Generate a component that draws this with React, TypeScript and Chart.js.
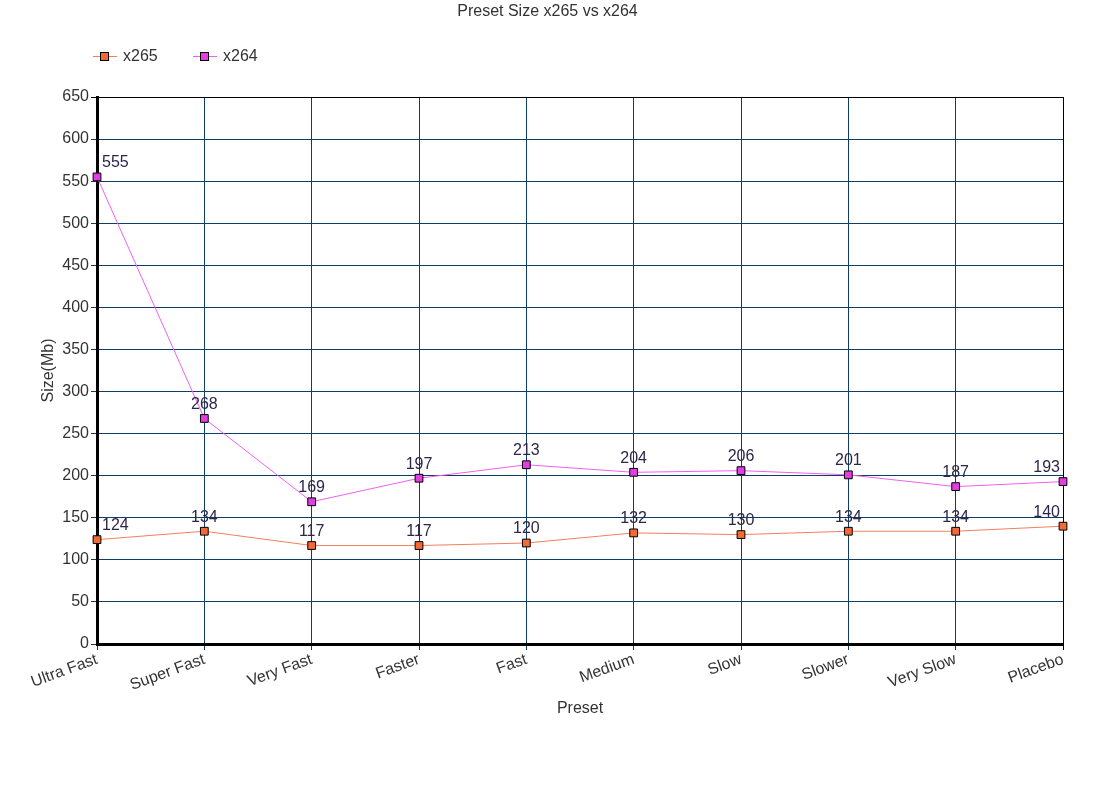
import React, { useEffect, useRef } from "react";
import { Chart, registerables } from "chart.js";

Chart.register(...registerables);

const categories = ["Ultra Fast", "Super Fast", "Very Fast", "Faster", "Fast", "Medium", "Slow", "Slower", "Very Slow", "Placebo"];
const x265Values = [124, 134, 117, 117, 120, 132, 130, 134, 134, 140];
const x264Values = [555, 268, 169, 197, 213, 204, 206, 201, 187, 193];
const seriesNames = ["x265", "x264"];
const chartTitle = "Preset Size x265 vs x264";
const xTitle = "Preset";
const yTitle = "Size(Mb)";

const FONT = "'Liberation Sans', Arial, sans-serif";
const TEXT = "#333333";
const LABEL = "#2e2648";
const GRID = "#0e3d66";
const LINE_COLORS = ["#f08060", "#f060f0"];
const FILL_COLORS = ["#f26a38", "#e23ee2"];

const W = 1095;
const H = 805;

const extras = {
  id: "extras",
  afterDatasetsDraw(chart: any) {
    const ctx = chart.ctx;
    ctx.save();
    ctx.font = `16px ${FONT}`;
    ctx.fillStyle = LABEL;
    ctx.textBaseline = "middle";
    chart.data.datasets.forEach((ds: any, di: number) => {
      const meta = chart.getDatasetMeta(di);
      meta.data.forEach((pt: any, i: number) => {
        const v = ds.data[i];
        let x = pt.x;
        if (i === 0) {
          ctx.textAlign = "left";
          x = pt.x + 5;
        } else if (i === ds.data.length - 1) {
          ctx.textAlign = "right";
          x = pt.x - 3;
        } else {
          ctx.textAlign = "center";
        }
        ctx.fillText(String(v), x, pt.y - 14);
      });
    });
    ctx.restore();
  },
  afterDraw(chart: any) {
    const ctx = chart.ctx;
    ctx.save();
    ctx.font = `16px ${FONT}`;
    ctx.fillStyle = TEXT;
    ctx.textAlign = "center";
    ctx.textBaseline = "middle";
    ctx.fillText(chartTitle, W / 2, 12);
    const y = 56;
    seriesNames.forEach((name, i) => {
      const x0 = 93 + i * 100;
      ctx.strokeStyle = LINE_COLORS[i];
      ctx.lineWidth = 1;
      ctx.beginPath();
      ctx.moveTo(x0, y + 0.5);
      ctx.lineTo(x0 + 24, y + 0.5);
      ctx.stroke();
      ctx.fillStyle = FILL_COLORS[i];
      ctx.fillRect(x0 + 7, y - 4, 9, 9);
      ctx.strokeStyle = "#000";
      ctx.strokeRect(x0 + 7.5, y - 3.5, 8, 8);
      ctx.fillStyle = TEXT;
      ctx.textAlign = "left";
      ctx.fillText(name, x0 + 30, y + 1);
    });
    ctx.restore();
  },
};

export default function App() {
  const ref = useRef<HTMLCanvasElement>(null);
  useEffect(() => {
    if (!ref.current) return;
    const chart = new Chart(ref.current, {
      type: "line",
      data: {
        labels: categories,
        datasets: [x265Values, x264Values].map((d, i) => ({
          label: seriesNames[i],
          data: d,
          borderColor: LINE_COLORS[i],
          borderWidth: 1,
          backgroundColor: FILL_COLORS[i],
          pointStyle: "rect",
          pointRadius: 5.5,
          pointHoverRadius: 5.5,
          pointBackgroundColor: FILL_COLORS[i],
          pointBorderColor: "#000",
          pointBorderWidth: 1,
          tension: 0,
        })),
      },
      options: {
        responsive: false,
        animation: false,
        layout: { padding: { top: 97, right: 32, bottom: 0, left: 0 } },
        plugins: {
          legend: { display: false },
          title: { display: false },
          tooltip: { enabled: false },
        },
        scales: {
          x: {
            offset: false,
            afterFit: (s: any) => {
              s.height = H - 644;
            },
            grid: {
              color: (c: any) => (c.index === categories.length - 1 ? "#000" : GRID),
              lineWidth: 1,
              tickLength: 6,
              drawTicks: true,
            },
            border: { display: true, color: "#000", width: 3 },
            ticks: {
              autoSkip: false,
              minRotation: 20,
              maxRotation: 20,
              padding: 0,
              color: TEXT,
              font: { family: FONT, size: 16 },
            },
            title: {
              display: true,
              text: xTitle,
              color: TEXT,
              font: { family: FONT, size: 16 },
              padding: { top: 0, bottom: 87 },
            },
          },
          y: {
            min: 0,
            max: 650,
            afterFit: (s: any) => {
              s.width = 97;
            },
            grid: {
              color: (c: any) => (c.tick && c.tick.value === 650 ? "#000" : GRID),
              lineWidth: 1,
              tickLength: 6,
            },
            border: { display: true, color: "#000", width: 3 },
            ticks: {
              stepSize: 50,
              padding: 2,
              color: TEXT,
              font: { family: FONT, size: 16 },
            },
            title: {
              display: true,
              text: yTitle,
              color: TEXT,
              font: { family: FONT, size: 16 },
              padding: { top: 39, bottom: 0 },
            },
          },
        },
      },
      plugins: [extras],
    });
    return () => chart.destroy();
  }, []);
  return (
    <div style={{ position: "fixed", left: 0, top: 0, width: W, height: H, background: "#fff" }}>
      <canvas ref={ref} width={W} height={H} style={{ display: "block" }} />
    </div>
  );
}
